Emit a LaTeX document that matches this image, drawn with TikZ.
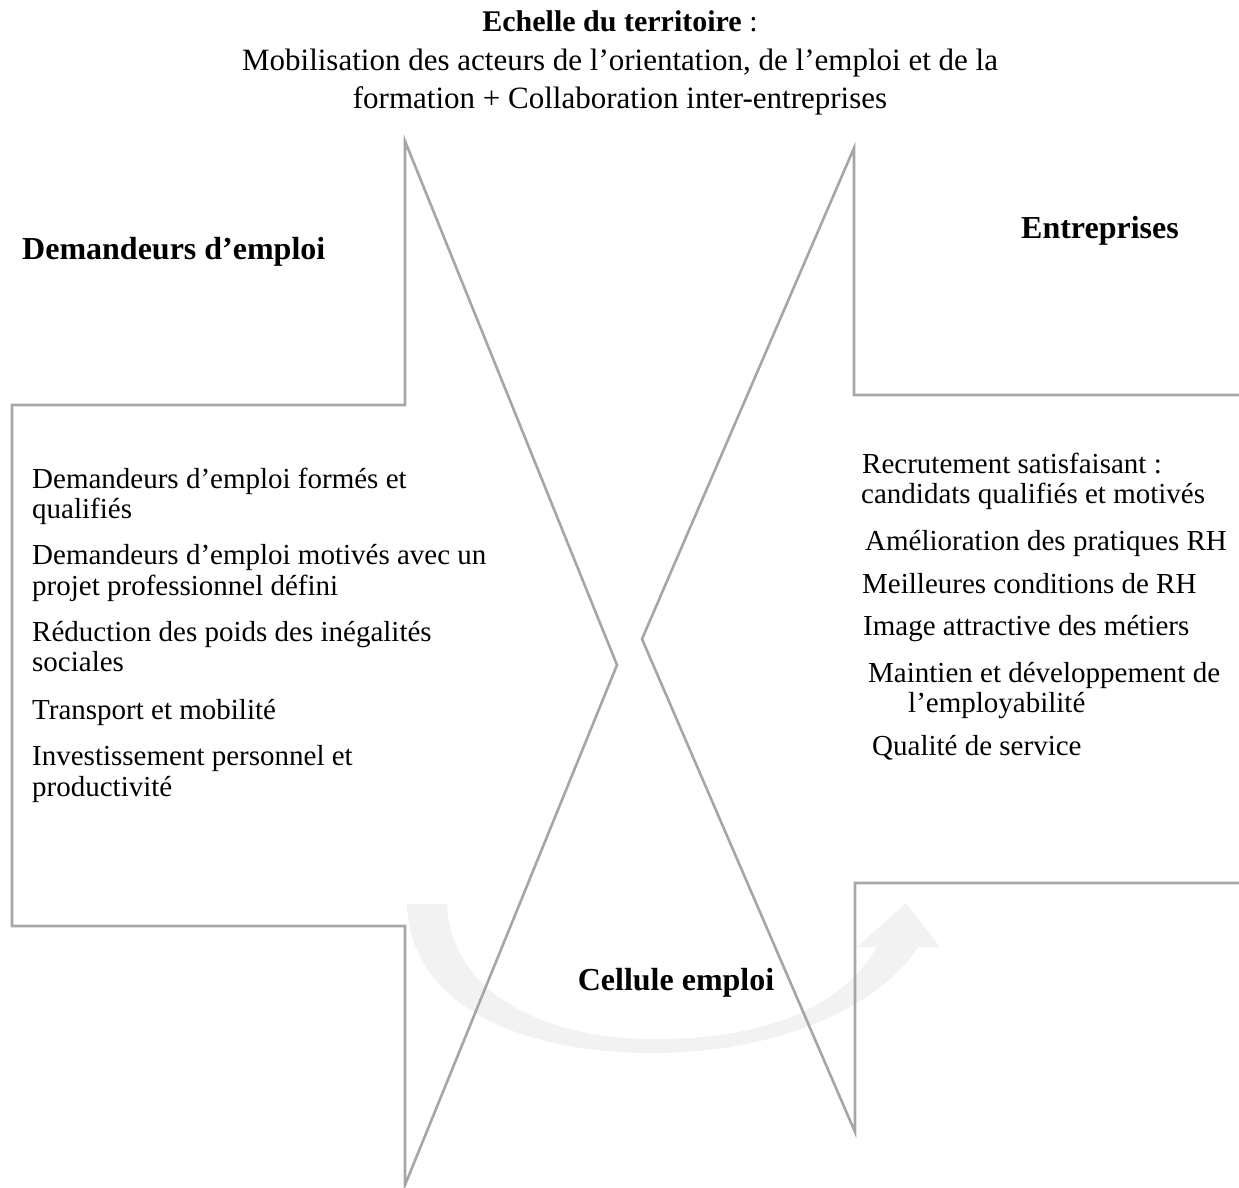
\documentclass[tikz,border=0pt]{standalone}
\usepackage{fontspec}
\setmainfont{Liberation Serif}
\definecolor{linegray}{HTML}{A6A6A6}
\definecolor{arrowgray}{HTML}{F2F2F2}
\begin{document}
\begin{tikzpicture}[x=1pt,y=-1pt,
  outline/.style={draw=linegray, line width=2.6pt, line join=miter},
  txt/.style={anchor=base west, inner sep=0pt, font=\fontsize{29}{30}\selectfont},
  hd/.style={anchor=base, inner sep=0pt, font=\fontsize{31}{32}\selectfont},
  hdb/.style={anchor=base, inner sep=0pt, font=\fontsize{32}{33}\selectfont\bfseries}]
\useasboundingbox (0,0) rectangle (1239,1187);

% curved arrow (background)
\fill[arrowgray] (407,904) .. controls (410,1010) and (530,1055) .. (660,1053)
  .. controls (790,1051) and (885,1000) .. (918,947) -- (940,947) -- (906,903)
  -- (857,947) -- (877,947) .. controls (840,1010) and (760,1040) .. (650,1039)
  .. controls (540,1038) and (450,990) .. (447,904) -- cycle;

% arrow-shaped outlines
\draw[outline] (12,405) -- (405,405) -- (405,141) -- (617,665) -- (405,1185) -- (405,926) -- (12,926) -- cycle;
\draw[outline] (1239,395) -- (854,395) -- (854,148) -- (642,639) -- (855,1132) -- (855,883) -- (1239,883);

% title
\node[hd, font=\fontsize{30}{31}\selectfont] (t1) at (620,31) {\textbf{Echelle du territoire} :};
\node[hd] (t2) at (620,70) {Mobilisation des acteurs de l’orientation, de l’emploi et de la};
\node[hd] (t3) at (620,108) {formation + Collaboration inter-entreprises};

% headings
\node[hdb, anchor=base west] (hl) at (22,259) {Demandeurs d’emploi};
\node[hdb] (hr) at (1100,238) {Entreprises};
\node[hdb] (ce) at (676,990) {Cellule emploi};

% left list
\node[txt] (l1) at (32,488) {Demandeurs d’emploi formés et};
\node[txt] (l2) at (32,518) {qualifiés};
\node[txt] (l3) at (32,564) {Demandeurs d’emploi motivés avec un};
\node[txt] (l4) at (32,595) {projet professionnel défini};
\node[txt] (l5) at (32,641) {Réduction des poids des inégalités};
\node[txt] (l6) at (32,671) {sociales};
\node[txt] (l7) at (32,719) {Transport et mobilité};
\node[txt] (l8) at (32,765) {Investissement personnel et};
\node[txt] (l9) at (32,796) {productivité};

% right list
\node[txt] (r1) at (862,473) {Recrutement satisfaisant :};
\node[txt] (r2) at (861,503) {candidats qualifiés et motivés};
\node[txt] (r3) at (865,550) {Amélioration des pratiques RH};
\node[txt] (r4) at (862,593) {Meilleures conditions de RH};
\node[txt] (r5) at (863,635) {Image attractive des métiers};
\node[txt] (r6) at (868,682) {Maintien et développement de};
\node[txt] (r7) at (908,712) {l’employabilité};
\node[txt] (r8) at (872,755) {Qualité de service};
\end{tikzpicture}
\end{document}
